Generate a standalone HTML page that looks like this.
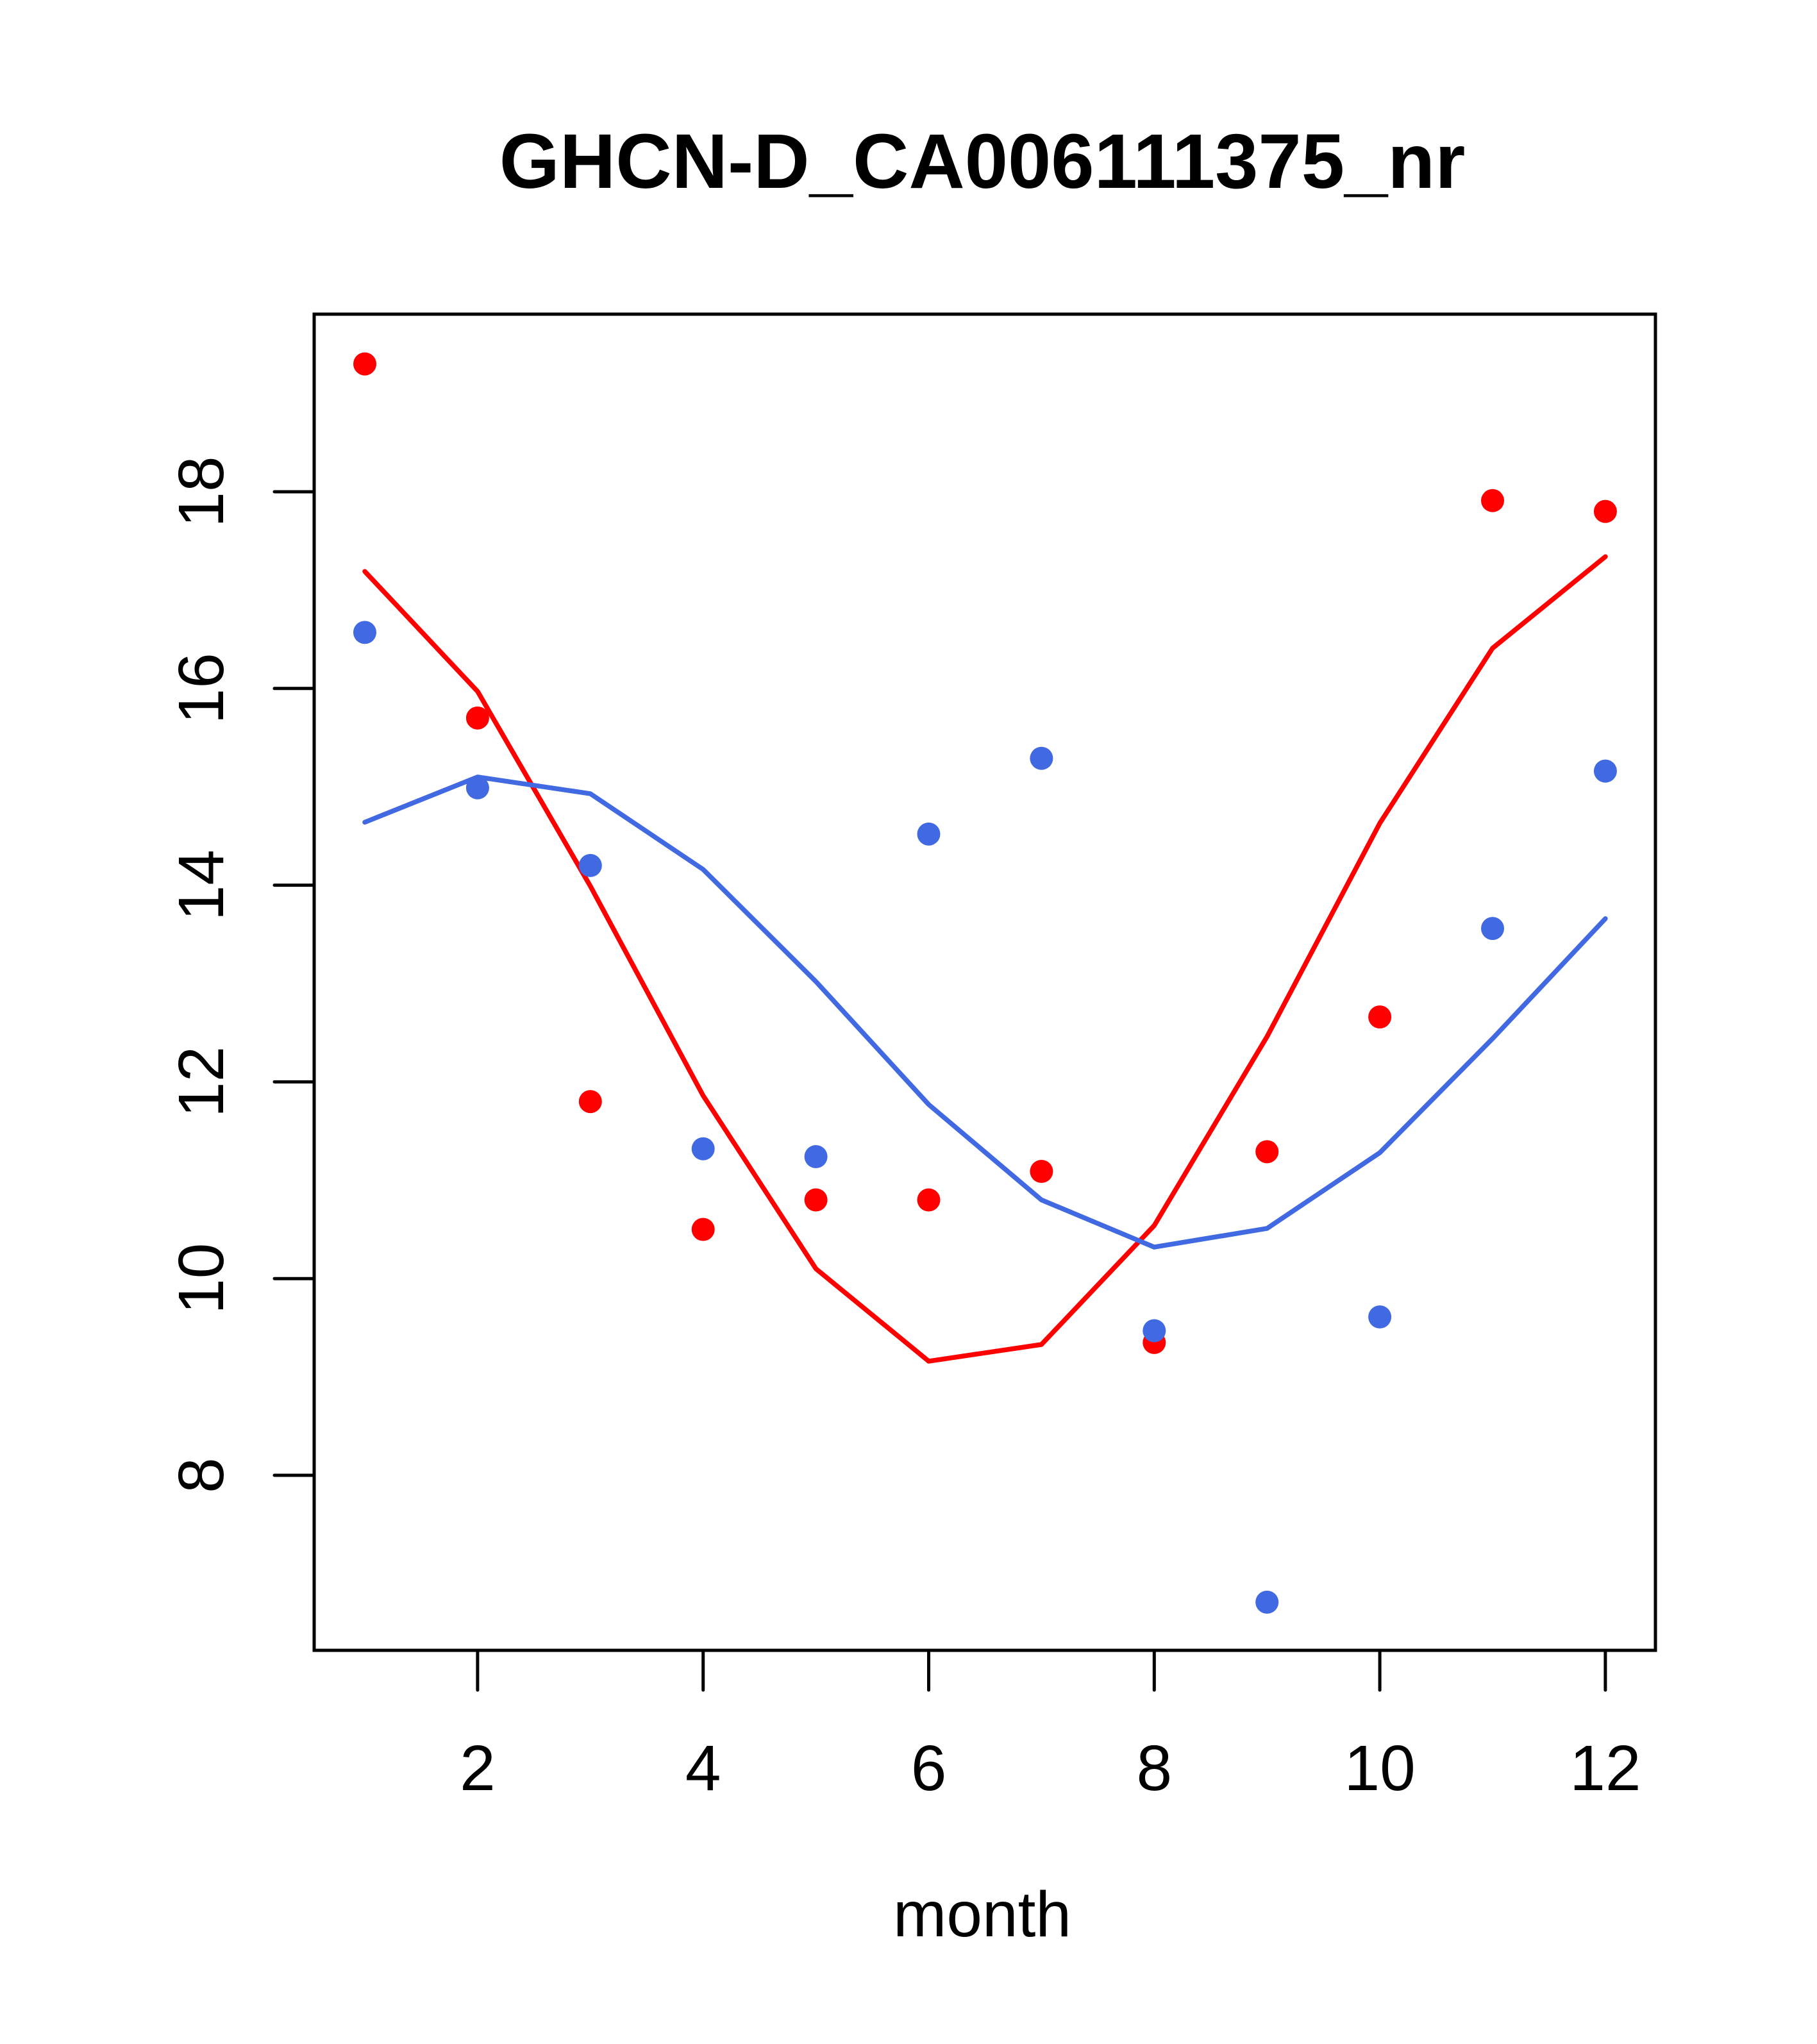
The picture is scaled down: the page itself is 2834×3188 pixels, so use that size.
<!DOCTYPE html>
<html><head><meta charset="utf-8"><style>html,body{margin:0;padding:0;background:#fff}svg{display:block}</style></head>
<body>
<svg id="chart" xmlns="http://www.w3.org/2000/svg" width="2834" height="3188" viewBox="0 0 2834 3188" font-family="Liberation Sans, Arial, sans-serif">
<rect width="2834" height="3188" fill="#fff"/>
<text x="1532" y="293" text-anchor="middle" font-size="121" font-weight="bold">GHCN-D_CA006111375_nr</text>
<text x="1532" y="3020" text-anchor="middle" font-size="100">month</text>
<rect x="490" y="490" width="2092" height="2084" fill="none" stroke="#000" stroke-width="5"/>
<g id="axes"></g>
<g id="series"></g>
</svg>
<script>
const months = [1,2,3,4,5,6,7,8,9,10,11,12];
const redPoints = [19.30,15.70,11.80,10.50,10.80,10.80,11.09,9.35,11.29,12.66,17.91,17.80];
const bluePoints = [16.57,14.99,14.20,11.32,11.24,14.52,15.29,9.47,6.71,9.61,13.56,15.16];
const redLine = [17.19,15.97,13.99,11.86,10.10,9.16,9.33,10.54,12.46,14.63,16.41,17.34];
const blueLine = [14.64,15.10,14.93,14.16,13.02,11.77,10.80,10.32,10.51,11.28,12.44,13.66];
const xTicks = [2,4,6,8,10,12];
const yTicks = [8,10,12,14,16,18];

const NS = 'http://www.w3.org/2000/svg';
function sx(m){ return 569 + (m-1)*175.9; }
function sy(v){ return 767 + (18-v)*153.4; }
function mk(tag, attrs, parent){ const e=document.createElementNS(NS,tag); for(const k in attrs) e.setAttribute(k,attrs[k]); parent.appendChild(e); return e; }
const axes=document.getElementById('axes'), series=document.getElementById('series');
const bottom=2574, left=490;
let l=mk('line',{x1:sx(2),x2:sx(12),y1:bottom,y2:bottom,stroke:'#000','stroke-width':5},axes);


xTicks.forEach(t=>{
  const tk=mk('line',{x1:sx(t),x2:sx(t),y1:bottom,y2:bottom+62,stroke:'#000','stroke-width':5,'stroke-linecap':'round'},axes);
  
  
  const tx=mk('text',{x:sx(t),y:2792,'text-anchor':'middle','font-size':100},axes);
  tx.textContent=t;
  
  
});
l=mk('line',{x1:left,x2:left,y1:sy(8),y2:sy(18),stroke:'#000','stroke-width':5},axes);


yTicks.forEach(t=>{
  const tk=mk('line',{x1:left,x2:left-62,y1:sy(t),y2:sy(t),stroke:'#000','stroke-width':5,'stroke-linecap':'round'},axes);
  
  
  const tx=mk('text',{x:0,y:0,'text-anchor':'middle','font-size':100,transform:`translate(348,${sy(t)}) rotate(-90)`},axes);
  tx.textContent=t;
  
  
});
function line(vals,color,name){
  const p=mk('polyline',{points:months.map((m,i)=>sx(m)+','+sy(vals[i])).join(' '),fill:'none',stroke:color,'stroke-width':7.5,'stroke-linejoin':'round','stroke-linecap':'round'},series);
  
  
}
function pts(vals,color,name){
  months.forEach((m,i)=>{
    const c=mk('circle',{cx:sx(m),cy:sy(vals[i]),r:18,fill:color},series);
    
    
  });
}
line(redLine,'#ff0000','red-fit-line');
line(blueLine,'#4169e1','blue-fit-line');
pts(redPoints,'#ff0000','red-point');
pts(bluePoints,'#4169e1','blue-point');
</script>
</body></html>
